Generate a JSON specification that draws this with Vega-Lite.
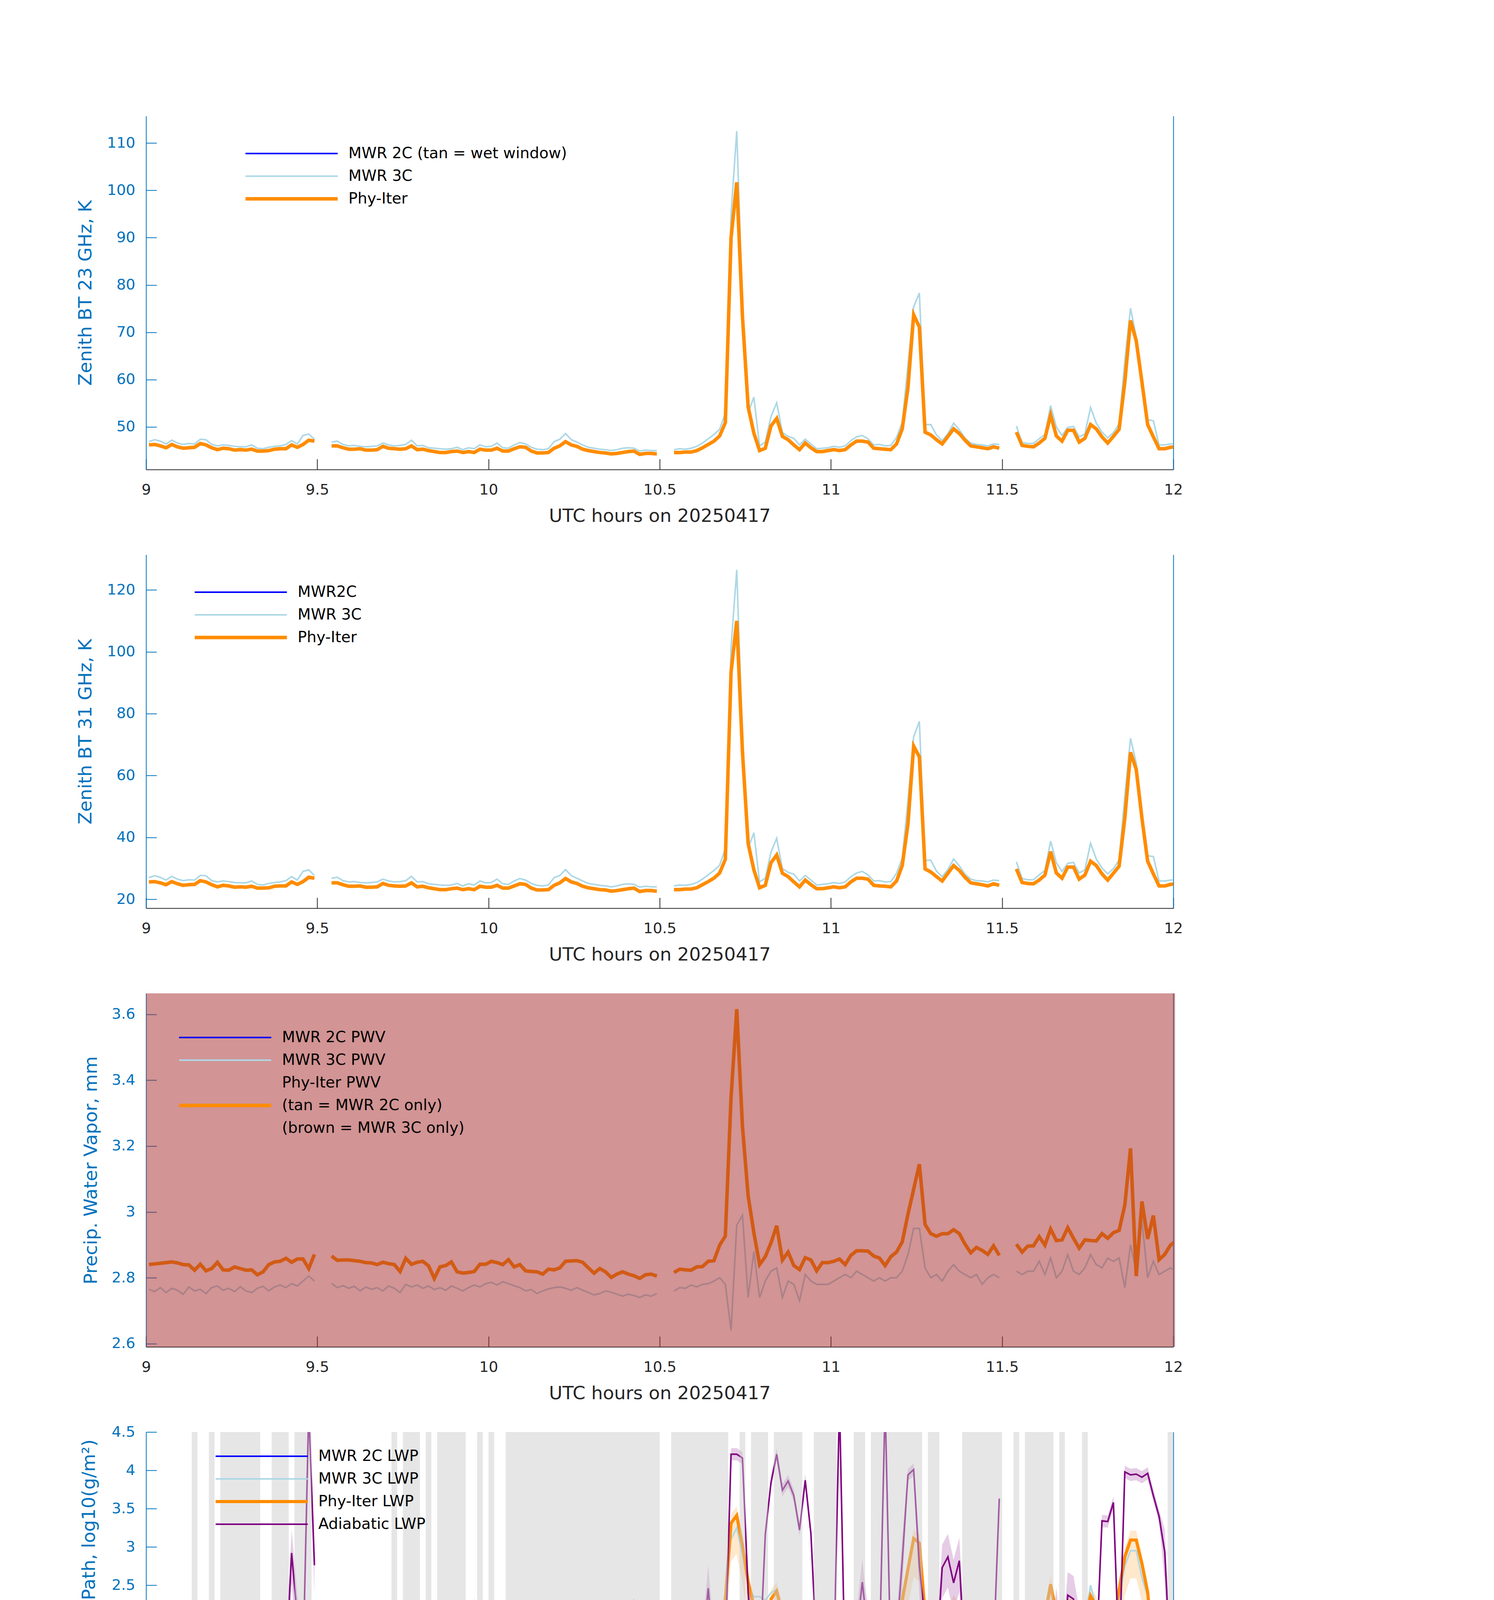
{
  "$schema": "https://vega.github.io/schema/vega-lite/v6.json",
  "padding": {"left": 195, "top": 297, "right": 10, "bottom": 10},
  "spacing": 218,
  "bounds": "flush",
  "resolve": {
    "scale": {"color": "independent", "strokeWidth": "independent"},
    "legend": {"color": "independent", "strokeWidth": "independent"}
  },
  "config": {
    "view": {"stroke": null},
    "axis": {
      "grid": false, "labelFont": "DejaVu Sans", "labelFontSize": 38,
      "titleFont": "DejaVu Sans", "titleFontWeight": "normal", "tickSize": -27, "tickWidth": 2, "domainWidth": 2,
      "labelFlush": false, "labelOverlap": false, "labelBound": false
    },
    "axisX": {
      "labelColor": "#262626", "tickColor": "#262626", "domainColor": "#262626", "labelPadding": 60,
      "titleFontSize": 47, "titleColor": "#262626", "titleY": 119, "titleBaseline": "middle"
    },
    "axisY": {
      "labelColor": "#0072bd", "tickColor": "#0072bd", "domainColor": "#0072bd", "labelPadding": 55,
      "titleFontSize": 47, "titleColor": "#0072bd", "titleBaseline": "middle"
    },
    "legend": {
      "orient": "none", "symbolType": "stroke", "symbolSize": 55696, "clipHeight": 58, "rowPadding": 0,
      "labelOffset": 23, "padding": 0, "labelFont": "DejaVu Sans",
      "labelFontSize": 39, "labelColor": "#000000", "labelLimit": 2000
    }
  },
  "vconcat": [
    {
      "width": 2630, "height": 905,
      "resolve": {"axis": {"y": "independent"}},
      "layer": [
        {
          "data": {"name": "main"},
          "mark": {"type": "line", "clip": true, "invalid": "break-paths-show-domains"},
          "encoding": {
            "x": {"field": "min", "type": "quantitative", "scale": {"domain": [0, 180], "nice": false, "zero": false},
              "axis": {"values": [0, 30, 60, 90, 120, 150, 180], "labelExpr": "format(9 + datum.value / 60, '~g')", "title": "UTC hours on 20250417"}},
            "y": {"field": "m23", "type": "quantitative", "scale": {"domain": [41, 115.7], "nice": false, "zero": false},
              "axis": {"values": [50, 60, 70, 80, 90, 100, 110], "title": "Zenith BT 23 GHz, K", "titleX": -155}},
            "color": {"datum": "MWR 3C", "type": "nominal",
              "scale": {"domain": ["MWR 2C (tan = wet window)", "MWR 3C", "Phy-Iter"], "range": ["#0000ff", "#add8e6", "#ff8c00"]},
              "legend": {"title": null, "legendX": 250, "legendY": 67}},
            "strokeWidth": {"datum": "MWR 3C", "type": "nominal",
              "scale": {"type": "ordinal", "domain": ["MWR 2C (tan = wet window)", "MWR 3C", "Phy-Iter"], "range": [4, 4, 9]},
              "legend": {"title": null, "legendX": 250, "legendY": 67}}
          }
        },
        {
          "data": {"name": "main"},
          "mark": {"type": "line", "clip": true, "invalid": "break-paths-show-domains", "strokeWidth": 9},
          "encoding": {
            "x": {"field": "min", "type": "quantitative"},
            "y": {"field": "p23", "type": "quantitative", "axis": null},
            "color": {"datum": "Phy-Iter", "type": "nominal"}
          }
        },
        {
          "data": {"name": "main"},
          "mark": {"type": "line", "opacity": 0},
          "encoding": {
            "x": {"field": "min", "type": "quantitative"},
            "y": {"field": "p23", "type": "quantitative", "axis": {"orient": "right", "labels": false, "ticks": false, "title": null}}
          }
        }
      ]
    },
    {
      "width": 2630, "height": 905,
      "resolve": {"axis": {"y": "independent"}},
      "layer": [
        {
          "data": {"name": "main"},
          "mark": {"type": "line", "clip": true, "invalid": "break-paths-show-domains"},
          "encoding": {
            "x": {"field": "min", "type": "quantitative", "scale": {"domain": [0, 180], "nice": false, "zero": false},
              "axis": {"values": [0, 30, 60, 90, 120, 150, 180], "labelExpr": "format(9 + datum.value / 60, '~g')", "title": "UTC hours on 20250417"}},
            "y": {"field": "m31", "type": "quantitative", "scale": {"domain": [17.1, 131.4], "nice": false, "zero": false},
              "axis": {"values": [20, 40, 60, 80, 100, 120], "title": "Zenith BT 31 GHz, K", "titleX": -155}},
            "color": {"datum": "MWR 3C", "type": "nominal",
              "scale": {"domain": ["MWR2C", "MWR 3C", "Phy-Iter"], "range": ["#0000ff", "#add8e6", "#ff8c00"]},
              "legend": {"title": null, "legendX": 120, "legendY": 67}},
            "strokeWidth": {"datum": "MWR 3C", "type": "nominal",
              "scale": {"type": "ordinal", "domain": ["MWR2C", "MWR 3C", "Phy-Iter"], "range": [4, 4, 9]},
              "legend": {"title": null, "legendX": 120, "legendY": 67}}
          }
        },
        {
          "data": {"name": "main"},
          "mark": {"type": "line", "clip": true, "invalid": "break-paths-show-domains", "strokeWidth": 9},
          "encoding": {
            "x": {"field": "min", "type": "quantitative"},
            "y": {"field": "p31", "type": "quantitative", "axis": null},
            "color": {"datum": "Phy-Iter", "type": "nominal"}
          }
        },
        {
          "data": {"name": "main"},
          "mark": {"type": "line", "opacity": 0},
          "encoding": {
            "x": {"field": "min", "type": "quantitative"},
            "y": {"field": "p31", "type": "quantitative", "axis": {"orient": "right", "labels": false, "ticks": false, "title": null}}
          }
        }
      ]
    },
    {
      "width": 2630, "height": 905,
      "resolve": {"axis": {"y": "independent"}},
      "layer": [
        {
          "data": {"name": "main"},
          "mark": {"type": "line", "clip": true, "invalid": "break-paths-show-domains"},
          "encoding": {
            "x": {"field": "min", "type": "quantitative", "scale": {"domain": [0, 180], "nice": false, "zero": false},
              "axis": {"values": [0, 30, 60, 90, 120, 150, 180], "labelExpr": "format(9 + datum.value / 60, '~g')", "title": "UTC hours on 20250417"}},
            "y": {"field": "mpwv", "type": "quantitative", "scale": {"domain": [2.59, 3.664], "nice": false, "zero": false},
              "axis": {"values": [2.6, 2.8, 3, 3.2, 3.4, 3.6], "format": "~g", "title": "Precip. Water Vapor, mm", "titleX": -141}},
            "color": {"datum": "MWR 3C PWV", "type": "nominal",
              "scale": {"domain": ["MWR 2C PWV", "MWR 3C PWV", "Phy-Iter PWV", "Phy-Iter PWV: (tan = MWR 2C only)", "(brown = MWR 3C only)"],
                "range": ["#0000ff", "#add8e6", "transparent", "#ff8c00", "transparent"]},
              "legend": {"title": null, "legendX": 80, "legendY": 84, "labelExpr": "replace(datum.label, 'Phy-Iter PWV: ', '')"}},
            "strokeWidth": {"datum": "MWR 3C PWV", "type": "nominal",
              "scale": {"type": "ordinal", "domain": ["MWR 2C PWV", "MWR 3C PWV", "Phy-Iter PWV", "Phy-Iter PWV: (tan = MWR 2C only)", "(brown = MWR 3C only)"],
                "range": [4, 4, 1, 9, 1]},
              "legend": {"title": null, "legendX": 80, "legendY": 84, "labelExpr": "replace(datum.label, 'Phy-Iter PWV: ', '')"}}
          }
        },
        {
          "data": {"name": "main"},
          "mark": {"type": "line", "clip": true, "invalid": "break-paths-show-domains", "strokeWidth": 9},
          "encoding": {
            "x": {"field": "min", "type": "quantitative"},
            "y": {"field": "ppwv", "type": "quantitative", "axis": null},
            "color": {"datum": "Phy-Iter PWV: (tan = MWR 2C only)", "type": "nominal"}
          }
        },
        {
          "data": {"name": "window"},
          "mark": {"type": "rect", "color": "#a52a2a", "opacity": 0.5},
          "encoding": {
            "x": {"field": "start", "type": "quantitative"},
            "x2": {"field": "end"}
          }
        },
        {
          "data": {"name": "main"},
          "mark": {"type": "line", "opacity": 0},
          "encoding": {
            "x": {"field": "min", "type": "quantitative"},
            "y": {"field": "ppwv", "type": "quantitative", "axis": {"orient": "right", "labels": false, "ticks": false, "title": null}}
          }
        }
      ]
    },
    {
      "width": 2630, "height": 905,
      "resolve": {"axis": {"y": "independent"}},
      "layer": [
        {
          "data": {"name": "main"},
          "mark": {"type": "area", "clip": true, "invalid": "break-paths-show-domains", "color": "#ff8c00", "opacity": 0.2},
          "encoding": {
            "x": {"field": "min", "type": "quantitative", "scale": {"domain": [0, 180], "nice": false, "zero": false},
              "axis": {"values": [0, 30, 60, 90, 120, 150, 180], "labelExpr": "format(9 + datum.value / 60, '~g')", "title": "UTC hours on 20250417"}},
            "y": {"field": "plo", "type": "quantitative", "scale": {"domain": [-0.117, 4.5], "nice": false, "zero": false},
              "axis": {"values": [0, 0.5, 1, 1.5, 2, 2.5, 3, 3.5, 4, 4.5], "format": "~g", "title": "log10 Liquid Water Path, log10(g/m²)", "titleX": -146}},
            "y2": {"field": "phi"}
          }
        },
        {
          "data": {"name": "main"},
          "mark": {"type": "area", "clip": true, "invalid": "break-paths-show-domains", "color": "#800080", "opacity": 0.2},
          "encoding": {
            "x": {"field": "min", "type": "quantitative"},
            "y": {"field": "alo", "type": "quantitative", "axis": null},
            "y2": {"field": "ahi"}
          }
        },
        {
          "data": {"name": "main"},
          "mark": {"type": "line", "clip": true, "invalid": "break-paths-show-domains"},
          "encoding": {
            "x": {"field": "min", "type": "quantitative"},
            "y": {"field": "mlwp", "type": "quantitative", "axis": null},
            "color": {"datum": "MWR 3C LWP", "type": "nominal",
              "scale": {"domain": ["MWR 2C LWP", "MWR 3C LWP", "Phy-Iter LWP", "Adiabatic LWP"], "range": ["#0000ff", "#add8e6", "#ff8c00", "#800080"]},
              "legend": {"title": null, "legendX": 174, "legendY": 33}},
            "strokeWidth": {"datum": "MWR 3C LWP", "type": "nominal",
              "scale": {"type": "ordinal", "domain": ["MWR 2C LWP", "MWR 3C LWP", "Phy-Iter LWP", "Adiabatic LWP"], "range": [4, 4, 8, 4]},
              "legend": {"title": null, "legendX": 174, "legendY": 33}}
          }
        },
        {
          "data": {"name": "main"},
          "mark": {"type": "line", "clip": true, "invalid": "break-paths-show-domains", "strokeWidth": 8},
          "encoding": {
            "x": {"field": "min", "type": "quantitative"},
            "y": {"field": "plwp", "type": "quantitative", "axis": null},
            "color": {"datum": "Phy-Iter LWP", "type": "nominal"}
          }
        },
        {
          "data": {"name": "main"},
          "mark": {"type": "line", "clip": true, "invalid": "break-paths-show-domains", "strokeWidth": 4},
          "encoding": {
            "x": {"field": "min", "type": "quantitative"},
            "y": {"field": "alwp", "type": "quantitative", "axis": null},
            "color": {"datum": "Adiabatic LWP", "type": "nominal"}
          }
        },
        {
          "data": {"name": "bands"},
          "mark": {"type": "rect", "color": "#c8c8c8", "opacity": 0.46},
          "encoding": {
            "x": {"field": "start", "type": "quantitative"},
            "x2": {"field": "end"}
          }
        },
        {
          "data": {"name": "main"},
          "mark": {"type": "line", "opacity": 0},
          "encoding": {
            "x": {"field": "min", "type": "quantitative"},
            "y": {"field": "mlwp", "type": "quantitative", "axis": {"orient": "right", "labels": false, "ticks": false, "title": null}}
          }
        }
      ]
    },
    {
      "width": 2630, "height": 905,
      "resolve": {"axis": {"y": "independent"}},
      "layer": [
        {
          "data": {"name": "flags"},
          "mark": {"type": "point", "filled": true, "size": 100, "color": "#ff8c00", "opacity": 1},
          "encoding": {
            "x": {"field": "min", "type": "quantitative", "scale": {"domain": [0, 180], "nice": false, "zero": false},
              "axis": {"values": [0, 30, 60, 90, 120, 150, 180], "labelExpr": "format(9 + datum.value / 60, '~g')", "title": "UTC hours on 20250417"}},
            "y": {"field": "flag", "type": "quantitative", "scale": {"domain": [-0.5, 11.5], "nice": false, "zero": false},
              "axis": {"values": [0, 2, 4, 6, 8, 10], "title": "MWR Phy Iter DQ Flag", "titleX": -134}}
          }
        },
        {
          "data": {"name": "flags"},
          "mark": {"type": "point", "opacity": 0},
          "encoding": {
            "x": {"field": "min", "type": "quantitative"},
            "y": {"field": "flag", "type": "quantitative", "axis": {"orient": "right", "labels": false, "ticks": false, "title": null}}
          }
        }
      ]
    }
  ],
  "datasets": {
    "window": [{"start": 0, "end": 180.3, "source": "MWR 3C only"}],
    "bands": [
      {"start": 8, "end": 9}, {"start": 11, "end": 12}, {"start": 13, "end": 20}, {"start": 22, "end": 25},
      {"start": 26, "end": 29}, {"start": 43, "end": 44}, {"start": 45, "end": 48}, {"start": 49, "end": 50},
      {"start": 51, "end": 56}, {"start": 58, "end": 59}, {"start": 60, "end": 61}, {"start": 63, "end": 90},
      {"start": 92, "end": 102}, {"start": 104, "end": 105}, {"start": 106, "end": 109}, {"start": 110, "end": 115},
      {"start": 117, "end": 121}, {"start": 124, "end": 126}, {"start": 127, "end": 136}, {"start": 137, "end": 139},
      {"start": 143, "end": 150}, {"start": 152, "end": 153}, {"start": 154, "end": 159}, {"start": 160, "end": 161},
      {"start": 164, "end": 165}, {"start": 179, "end": 180}
    ],
    "flags": [
      {"min":0.5,"flag":0},{"min":1.5,"flag":0},{"min":2.5,"flag":0},{"min":3.5,"flag":0},{"min":4.5,"flag":0},
      {"min":5.5,"flag":0},{"min":6.5,"flag":0},{"min":7.5,"flag":0},{"min":8.5,"flag":4},{"min":9.5,"flag":0},
      {"min":10.5,"flag":0},{"min":11.5,"flag":4},{"min":12.5,"flag":0},{"min":13.5,"flag":4},{"min":14.5,"flag":4},
      {"min":15.5,"flag":4},{"min":16.5,"flag":4},{"min":17.5,"flag":4},{"min":18.5,"flag":4},{"min":19.5,"flag":4},
      {"min":20.5,"flag":0},{"min":21.5,"flag":0},{"min":22.5,"flag":4},{"min":23.5,"flag":4},{"min":24.5,"flag":4},
      {"min":25.5,"flag":0},{"min":26.5,"flag":4},{"min":27.5,"flag":4},{"min":28.5,"flag":4},{"min":29.5,"flag":0},
      {"min":30.5,"flag":1},{"min":31.5,"flag":1},{"min":32.5,"flag":0},{"min":33.5,"flag":0},{"min":34.5,"flag":0},
      {"min":35.5,"flag":0},{"min":36.5,"flag":0},{"min":37.5,"flag":0},{"min":38.5,"flag":0},{"min":39.5,"flag":0},
      {"min":40.5,"flag":0},{"min":41.5,"flag":0},{"min":42.5,"flag":0},{"min":43.5,"flag":4},{"min":44.5,"flag":0},
      {"min":45.5,"flag":4},{"min":46.5,"flag":4},{"min":47.5,"flag":4},{"min":48.5,"flag":0},{"min":49.5,"flag":4},
      {"min":50.5,"flag":0},{"min":51.5,"flag":4},{"min":52.5,"flag":4},{"min":53.5,"flag":4},{"min":54.5,"flag":4},
      {"min":55.5,"flag":4},{"min":56.5,"flag":0},{"min":57.5,"flag":0},{"min":58.5,"flag":4},{"min":59.5,"flag":0},
      {"min":60.5,"flag":4},{"min":61.5,"flag":0},{"min":62.5,"flag":0},{"min":63.5,"flag":4},{"min":64.5,"flag":4},
      {"min":65.5,"flag":4},{"min":66.5,"flag":4},{"min":67.5,"flag":4},{"min":68.5,"flag":4},{"min":69.5,"flag":4},
      {"min":70.5,"flag":4},{"min":71.5,"flag":4},{"min":72.5,"flag":4},{"min":73.5,"flag":4},{"min":74.5,"flag":4},
      {"min":75.5,"flag":4},{"min":76.5,"flag":4},{"min":77.5,"flag":4},{"min":78.5,"flag":4},{"min":79.5,"flag":4},
      {"min":80.5,"flag":4},{"min":81.5,"flag":4},{"min":82.5,"flag":4},{"min":83.5,"flag":4},{"min":84.5,"flag":4},
      {"min":85.5,"flag":4},{"min":86.5,"flag":4},{"min":87.5,"flag":4},{"min":88.5,"flag":4},{"min":89.5,"flag":4},
      {"min":90.5,"flag":1},{"min":91.5,"flag":1},{"min":92.5,"flag":4},{"min":93.5,"flag":4},{"min":94.5,"flag":4},
      {"min":95.5,"flag":4},{"min":96.5,"flag":4},{"min":97.5,"flag":4},{"min":98.5,"flag":4},{"min":99.5,"flag":4},
      {"min":100.5,"flag":4},{"min":101.5,"flag":4},{"min":102.5,"flag":6},{"min":103.5,"flag":6},{"min":104.5,"flag":4},
      {"min":104.5,"flag":6},{"min":105.5,"flag":0},{"min":106.5,"flag":4},{"min":107.5,"flag":4},{"min":107.5,"flag":6},
      {"min":108.5,"flag":4},{"min":109.5,"flag":0},{"min":110.5,"flag":4},{"min":111.5,"flag":4},{"min":112.5,"flag":4},
      {"min":113.5,"flag":4},{"min":114.5,"flag":4},{"min":115.5,"flag":0},{"min":116.5,"flag":0},{"min":117.5,"flag":4},
      {"min":117.5,"flag":6},{"min":118.5,"flag":4},{"min":118.5,"flag":6},{"min":119.5,"flag":4},{"min":119.5,"flag":6},
      {"min":120.5,"flag":4},{"min":120.5,"flag":6},{"min":121.5,"flag":4},{"min":122.5,"flag":4},{"min":123.5,"flag":0},
      {"min":124.5,"flag":4},{"min":125.5,"flag":4},{"min":126.5,"flag":0},{"min":127.5,"flag":4},{"min":128.5,"flag":4},
      {"min":129.5,"flag":4},{"min":130.5,"flag":4},{"min":131.5,"flag":4},{"min":132.5,"flag":4},{"min":133.5,"flag":4},
      {"min":134.5,"flag":4},{"min":134.5,"flag":6},{"min":135.5,"flag":4},{"min":135.5,"flag":6},{"min":136.5,"flag":0},
      {"min":137.5,"flag":4},{"min":138.5,"flag":4},{"min":139.5,"flag":0},{"min":140.5,"flag":0},{"min":141.5,"flag":0},
      {"min":142.5,"flag":0},{"min":143.5,"flag":4},{"min":144.5,"flag":4},{"min":145.5,"flag":4},{"min":146.5,"flag":4},
      {"min":147.5,"flag":4},{"min":148.5,"flag":4},{"min":149.5,"flag":4},{"min":150.5,"flag":1},{"min":151.5,"flag":1},
      {"min":152.5,"flag":4},{"min":153.5,"flag":0},{"min":154.5,"flag":4},{"min":155.5,"flag":4},{"min":156.5,"flag":4},
      {"min":157.5,"flag":4},{"min":158.5,"flag":4},{"min":159.5,"flag":0},{"min":160.5,"flag":4},{"min":161.5,"flag":0},
      {"min":162.5,"flag":0},{"min":163.5,"flag":0},{"min":164.5,"flag":4},{"min":165.5,"flag":0},{"min":166.5,"flag":0},
      {"min":167.5,"flag":0},{"min":168.5,"flag":0},{"min":169.5,"flag":0},{"min":170.5,"flag":0},{"min":171.5,"flag":0},
      {"min":172.5,"flag":6},{"min":173.5,"flag":6},{"min":174.5,"flag":0},{"min":175.5,"flag":6},{"min":176.5,"flag":0},
      {"min":177.5,"flag":6},{"min":178.5,"flag":6},{"min":179.5,"flag":4},{"min":179.5,"flag":6},{"min":180.5,"flag":0}
    ],
    "main": [
      {"min":0.5,"p23":46.2,"m23":46.9,"p31":25.6,"m31":27.0,"ppwv":2.840,"mpwv":2.765,"plwp":1.96,"plo":1.46,"phi":2.08,"mlwp":1.85,"alwp":1.59,"alo":1.19,"ahi":1.89},
      {"min":1.5,"p23":46.3,"m23":47.3,"p31":25.7,"m31":27.6,"ppwv":2.842,"mpwv":2.758,"plwp":1.98,"plo":1.48,"phi":2.10,"mlwp":1.82,"alwp":1.49,"alo":1.09,"ahi":1.79},
      {"min":2.5,"p23":46.0,"m23":47.0,"p31":25.3,"m31":27.1,"ppwv":2.844,"mpwv":2.770,"plwp":1.89,"plo":1.39,"phi":2.01,"mlwp":1.80,"alwp":1.50,"alo":1.10,"ahi":1.80},
      {"min":3.5,"p23":45.6,"m23":46.4,"p31":24.7,"m31":26.2,"ppwv":2.846,"mpwv":2.755,"plwp":1.59,"plo":1.09,"phi":1.71,"mlwp":1.72,"alwp":1.83,"alo":1.43,"ahi":2.13},
      {"min":4.5,"p23":46.3,"m23":47.2,"p31":25.7,"m31":27.4,"ppwv":2.848,"mpwv":2.768,"plwp":1.92,"plo":1.42,"phi":2.04,"mlwp":1.85,"alwp":1.59,"alo":1.19,"ahi":1.89},
      {"min":5.5,"p23":45.8,"m23":46.6,"p31":25.0,"m31":26.5,"ppwv":2.845,"mpwv":2.762,"plwp":1.74,"plo":1.24,"phi":1.86,"mlwp":1.80,"alwp":1.64,"alo":1.24,"ahi":1.94},
      {"min":6.5,"p23":45.5,"m23":46.3,"p31":24.5,"m31":26.0,"ppwv":2.840,"mpwv":2.750,"plwp":1.60,"plo":1.10,"phi":1.72,"mlwp":1.75,"alwp":1.64,"alo":1.24,"ahi":1.94},
      {"min":7.5,"p23":45.6,"m23":46.5,"p31":24.7,"m31":26.3,"ppwv":2.839,"mpwv":2.772,"plwp":1.69,"plo":1.19,"phi":1.81,"mlwp":1.70,"alwp":1.66,"alo":1.26,"ahi":1.96},
      {"min":8.5,"p23":45.7,"m23":46.4,"p31":24.8,"m31":26.2,"ppwv":2.823,"mpwv":2.760,"plwp":1.85,"plo":1.35,"phi":1.97,"mlwp":1.82,"alwp":1.23,"alo":0.83,"ahi":1.53},
      {"min":9.5,"p23":46.5,"m23":47.4,"p31":26.0,"m31":27.7,"ppwv":2.841,"mpwv":2.765,"plwp":1.98,"plo":1.48,"phi":2.10,"mlwp":1.90,"alwp":1.64,"alo":1.24,"ahi":1.94},
      {"min":10.5,"p23":46.2,"m23":47.3,"p31":25.6,"m31":27.6,"ppwv":2.821,"mpwv":2.752,"plwp":1.84,"plo":1.34,"phi":1.96,"mlwp":1.78,"alwp":1.38,"alo":0.98,"ahi":1.68},
      {"min":11.5,"p23":45.6,"m23":46.3,"p31":24.7,"m31":26.0,"ppwv":2.828,"mpwv":2.770,"plwp":1.55,"plo":1.05,"phi":1.67,"mlwp":1.62,"alwp":1.23,"alo":0.83,"ahi":1.53},
      {"min":12.5,"p23":45.2,"m23":46.0,"p31":24.0,"m31":25.6,"ppwv":2.847,"mpwv":2.775,"plwp":1.54,"plo":1.04,"phi":1.66,"mlwp":1.70,"alwp":1.73,"alo":1.33,"ahi":2.03},
      {"min":13.5,"p23":45.5,"m23":46.2,"p31":24.5,"m31":25.9,"ppwv":2.824,"mpwv":2.762,"plwp":1.60,"plo":1.10,"phi":1.72,"mlwp":1.66,"alwp":1.23,"alo":0.83,"ahi":1.53},
      {"min":14.5,"p23":45.4,"m23":46.1,"p31":24.3,"m31":25.7,"ppwv":2.823,"mpwv":2.768,"plwp":1.31,"plo":0.81,"phi":1.43,"mlwp":1.60,"alwp":1.42,"alo":1.02,"ahi":1.72},
      {"min":15.5,"p23":45.1,"m23":45.9,"p31":23.9,"m31":25.4,"ppwv":2.833,"mpwv":2.758,"plwp":1.33,"plo":0.83,"phi":1.45,"mlwp":1.70,"alwp":1.57,"alo":1.17,"ahi":1.87},
      {"min":16.5,"p23":45.2,"m23":45.8,"p31":24.0,"m31":25.3,"ppwv":2.828,"mpwv":2.773,"plwp":1.35,"plo":0.85,"phi":1.47,"mlwp":1.65,"alwp":1.23,"alo":0.83,"ahi":1.53},
      {"min":17.5,"p23":45.1,"m23":45.8,"p31":23.9,"m31":25.3,"ppwv":2.823,"mpwv":2.760,"plwp":1.42,"plo":0.92,"phi":1.54,"mlwp":1.60,"alwp":1.42,"alo":1.02,"ahi":1.72},
      {"min":18.5,"p23":45.3,"m23":46.2,"p31":24.2,"m31":25.9,"ppwv":2.824,"mpwv":2.755,"plwp":1.57,"plo":1.07,"phi":1.69,"mlwp":1.72,"alwp":1.59,"alo":1.19,"ahi":1.89},
      {"min":19.5,"p23":44.9,"m23":45.5,"p31":23.6,"m31":24.8,"ppwv":2.809,"mpwv":2.768,"plwp":1.45,"plo":0.95,"phi":1.57,"mlwp":1.75,"alwp":1.33,"alo":0.93,"ahi":1.63},
      {"min":20.5,"p23":44.9,"m23":45.4,"p31":23.6,"m31":24.6,"ppwv":2.818,"mpwv":2.774,"plwp":1.35,"plo":0.85,"phi":1.47,"mlwp":1.62,"alwp":1.76,"alo":1.36,"ahi":2.06},
      {"min":21.5,"p23":45.0,"m23":45.7,"p31":23.7,"m31":25.1,"ppwv":2.840,"mpwv":2.760,"plwp":1.14,"plo":0.64,"phi":1.26,"mlwp":1.55,"alwp":1.71,"alo":1.31,"ahi":2.01},
      {"min":22.5,"p23":45.3,"m23":45.9,"p31":24.2,"m31":25.4,"ppwv":2.848,"mpwv":2.772,"plwp":1.31,"plo":0.81,"phi":1.43,"mlwp":1.66,"alwp":1.45,"alo":1.05,"ahi":1.75},
      {"min":23.5,"p23":45.4,"m23":46.0,"p31":24.3,"m31":25.6,"ppwv":2.850,"mpwv":2.778,"plwp":1.33,"plo":0.83,"phi":1.45,"mlwp":1.60,"alwp":1.44,"alo":1.04,"ahi":1.74},
      {"min":24.5,"p23":45.4,"m23":46.3,"p31":24.3,"m31":26.0,"ppwv":2.859,"mpwv":2.770,"plwp":1.35,"plo":0.85,"phi":1.47,"mlwp":1.62,"alwp":1.44,"alo":1.04,"ahi":1.74},
      {"min":25.5,"p23":46.2,"m23":47.1,"p31":25.6,"m31":27.3,"ppwv":2.847,"mpwv":2.782,"plwp":1.86,"plo":1.36,"phi":1.98,"mlwp":1.88,"alwp":2.92,"alo":2.52,"ahi":3.22},
      {"min":26.5,"p23":45.7,"m23":46.4,"p31":24.8,"m31":26.2,"ppwv":2.857,"mpwv":2.775,"plwp":1.54,"plo":1.04,"phi":1.66,"mlwp":1.72,"alwp":2.08,"alo":1.68,"ahi":2.38},
      {"min":27.5,"p23":46.3,"m23":48.2,"p31":25.7,"m31":29.0,"ppwv":2.857,"mpwv":2.790,"plwp":1.89,"plo":1.39,"phi":2.01,"mlwp":1.95,"alwp":1.45,"alo":1.05,"ahi":1.75},
      {"min":28.5,"p23":47.2,"m23":48.5,"p31":27.1,"m31":29.5,"ppwv":2.828,"mpwv":2.805,"plwp":2.03,"plo":1.53,"phi":2.15,"mlwp":2.18,"alwp":4.8,"alo":4.7,"ahi":5.0},
      {"min":29.5,"p23":47.0,"m23":47.4,"p31":26.8,"m31":27.7,"ppwv":2.871,"mpwv":2.790,"plwp":1.98,"plo":1.48,"phi":2.10,"mlwp":2.02,"alwp":2.76,"alo":2.36,"ahi":3.06},
      {"min":30.5},
      {"min":31.5},
      {"min":32.5,"p23":46.0,"m23":46.8,"p31":25.3,"m31":26.8,"ppwv":2.866,"mpwv":2.783,"plwp":1.66,"plo":1.16,"phi":1.78,"mlwp":1.85,"alwp":1.66,"alo":1.26,"ahi":1.96},
      {"min":33.5,"p23":46.0,"m23":47.0,"p31":25.3,"m31":27.1,"ppwv":2.853,"mpwv":2.770,"plwp":1.71,"plo":1.21,"phi":1.83,"mlwp":1.80,"alwp":1.68,"alo":1.28,"ahi":1.98},
      {"min":34.5,"p23":45.6,"m23":46.3,"p31":24.7,"m31":26.0,"ppwv":2.854,"mpwv":2.776,"plwp":1.49,"plo":0.99,"phi":1.61,"mlwp":1.75,"alwp":1.71,"alo":1.31,"ahi":2.01},
      {"min":35.5,"p23":45.3,"m23":46.0,"p31":24.2,"m31":25.6,"ppwv":2.854,"mpwv":2.768,"plwp":1.33,"plo":0.83,"phi":1.45,"mlwp":1.66,"alwp":1.59,"alo":1.19,"ahi":1.89},
      {"min":36.5,"p23":45.3,"m23":46.1,"p31":24.2,"m31":25.7,"ppwv":2.852,"mpwv":2.774,"plwp":1.16,"plo":0.66,"phi":1.28,"mlwp":1.62,"alwp":1.66,"alo":1.26,"ahi":1.96},
      {"min":37.5,"p23":45.4,"m23":45.9,"p31":24.3,"m31":25.4,"ppwv":2.850,"mpwv":2.760,"plwp":1.35,"plo":0.85,"phi":1.47,"mlwp":1.60,"alwp":1.73,"alo":1.33,"ahi":2.03},
      {"min":38.5,"p23":45.1,"m23":45.8,"p31":23.9,"m31":25.3,"ppwv":2.846,"mpwv":2.772,"plwp":0.99,"plo":0.49,"phi":1.11,"mlwp":1.56,"alwp":1.71,"alo":1.31,"ahi":2.01},
      {"min":39.5,"p23":45.1,"m23":45.9,"p31":23.9,"m31":25.4,"ppwv":2.845,"mpwv":2.765,"plwp":1.11,"plo":0.61,"phi":1.23,"mlwp":1.62,"alwp":1.59,"alo":1.19,"ahi":1.89},
      {"min":40.5,"p23":45.2,"m23":46.0,"p31":24.0,"m31":25.6,"ppwv":2.840,"mpwv":2.770,"plwp":1.18,"plo":0.68,"phi":1.30,"mlwp":1.70,"alwp":1.68,"alo":1.28,"ahi":1.98},
      {"min":41.5,"p23":45.9,"m23":46.6,"p31":25.1,"m31":26.5,"ppwv":2.847,"mpwv":2.760,"plwp":1.57,"plo":1.07,"phi":1.69,"mlwp":1.82,"alwp":1.58,"alo":1.18,"ahi":1.88},
      {"min":42.5,"p23":45.5,"m23":46.2,"p31":24.5,"m31":25.9,"ppwv":2.843,"mpwv":2.775,"plwp":1.45,"plo":0.95,"phi":1.57,"mlwp":1.66,"alwp":1.77,"alo":1.37,"ahi":2.07},
      {"min":43.5,"p23":45.4,"m23":46.0,"p31":24.3,"m31":25.6,"ppwv":2.840,"mpwv":2.768,"plwp":1.33,"plo":0.83,"phi":1.45,"mlwp":1.55,"alwp":1.43,"alo":1.03,"ahi":1.73},
      {"min":44.5,"p23":45.3,"m23":46.1,"p31":24.2,"m31":25.7,"ppwv":2.819,"mpwv":2.755,"plwp":1.55,"plo":1.05,"phi":1.67,"mlwp":1.62,"alwp":1.80,"alo":1.40,"ahi":2.10},
      {"min":45.5,"p23":45.4,"m23":46.3,"p31":24.3,"m31":26.0,"ppwv":2.859,"mpwv":2.780,"plwp":1.74,"plo":1.24,"phi":1.86,"mlwp":1.78,"alwp":1.45,"alo":1.05,"ahi":1.75},
      {"min":46.5,"p23":46.0,"m23":47.2,"p31":25.3,"m31":27.4,"ppwv":2.841,"mpwv":2.772,"plwp":1.33,"plo":0.83,"phi":1.45,"mlwp":1.60,"alwp":1.23,"alo":0.83,"ahi":1.53},
      {"min":47.5,"p23":45.2,"m23":46.0,"p31":24.0,"m31":25.6,"ppwv":2.847,"mpwv":2.778,"plwp":0.90,"plo":0.40,"phi":1.02,"mlwp":1.52,"alwp":1.23,"alo":0.83,"ahi":1.53},
      {"min":48.5,"p23":45.3,"m23":46.1,"p31":24.2,"m31":25.7,"ppwv":2.850,"mpwv":2.768,"plwp":0.50,"plo":0.00,"phi":0.62,"mlwp":1.55,"alwp":1.59,"alo":1.19,"ahi":1.89},
      {"min":49.5,"p23":45.0,"m23":45.6,"p31":23.7,"m31":25.0,"ppwv":2.836,"mpwv":2.775,"plwp":-0.6,"plo":-0.6,"phi":0.8,"mlwp":1.46,"alwp":1.31,"alo":0.91,"ahi":1.61},
      {"min":50.5,"p23":44.8,"m23":45.5,"p31":23.4,"m31":24.8,"ppwv":2.798,"mpwv":2.764,"plwp":-0.6,"plo":-0.6,"phi":0.8,"mlwp":1.50,"alwp":1.71,"alo":1.31,"ahi":2.01},
      {"min":51.5,"p23":44.6,"m23":45.4,"p31":23.1,"m31":24.6,"ppwv":2.833,"mpwv":2.770,"plwp":-0.6,"plo":-0.6,"phi":0.8,"mlwp":1.55,"alwp":1.23,"alo":0.83,"ahi":1.53},
      {"min":52.5,"p23":44.6,"m23":45.3,"p31":23.1,"m31":24.5,"ppwv":2.837,"mpwv":2.762,"plwp":-0.6,"plo":-0.6,"phi":0.8,"mlwp":1.60,"alwp":1.42,"alo":1.02,"ahi":1.72},
      {"min":53.5,"p23":44.8,"m23":45.4,"p31":23.4,"m31":24.6,"ppwv":2.848,"mpwv":2.775,"plwp":0.84,"plo":0.34,"phi":0.96,"mlwp":1.70,"alwp":1.42,"alo":1.02,"ahi":1.72},
      {"min":54.5,"p23":44.9,"m23":45.7,"p31":23.6,"m31":25.1,"ppwv":2.818,"mpwv":2.768,"plwp":-0.6,"plo":-0.6,"phi":0.8,"mlwp":1.60,"alwp":1.42,"alo":1.02,"ahi":1.72},
      {"min":55.5,"p23":44.6,"m23":45.2,"p31":23.1,"m31":24.3,"ppwv":2.814,"mpwv":2.760,"plwp":1.04,"plo":0.54,"phi":1.16,"mlwp":1.56,"alwp":1.42,"alo":1.02,"ahi":1.72},
      {"min":56.5,"p23":44.8,"m23":45.6,"p31":23.4,"m31":25.0,"ppwv":2.816,"mpwv":2.770,"plwp":-0.6,"plo":-0.6,"phi":0.8,"mlwp":1.66,"alwp":1.55,"alo":1.15,"ahi":1.85},
      {"min":57.5,"p23":44.6,"m23":45.4,"p31":23.1,"m31":24.6,"ppwv":2.819,"mpwv":2.778,"plwp":1.72,"plo":1.22,"phi":1.84,"mlwp":1.92,"alwp":2.03,"alo":1.63,"ahi":2.33},
      {"min":58.5,"p23":45.3,"m23":46.2,"p31":24.2,"m31":25.9,"ppwv":2.841,"mpwv":2.772,"plwp":1.04,"plo":0.54,"phi":1.16,"mlwp":1.62,"alwp":1.38,"alo":0.98,"ahi":1.68},
      {"min":59.5,"p23":45.1,"m23":45.8,"p31":23.9,"m31":25.3,"ppwv":2.841,"mpwv":2.782,"plwp":1.67,"plo":1.17,"phi":1.79,"mlwp":1.72,"alwp":1.35,"alo":0.95,"ahi":1.65},
      {"min":60.5,"p23":45.1,"m23":45.9,"p31":23.9,"m31":25.4,"ppwv":2.850,"mpwv":2.786,"plwp":-0.6,"plo":-0.6,"phi":0.8,"mlwp":1.50,"alwp":1.23,"alo":0.8,"ahi":1.8},
      {"min":61.5,"p23":45.5,"m23":46.6,"p31":24.5,"m31":26.5,"ppwv":2.846,"mpwv":2.778,"plwp":-0.6,"plo":-0.6,"phi":0.8,"mlwp":1.55,"alwp":1.59,"alo":1.19,"ahi":1.89},
      {"min":62.5,"p23":44.9,"m23":45.6,"p31":23.6,"m31":25.0,"ppwv":2.840,"mpwv":2.788,"plwp":-0.6,"plo":-0.6,"phi":0.8,"mlwp":1.50,"alwp":1.71,"alo":1.31,"ahi":2.01},
      {"min":63.5,"p23":44.9,"m23":45.5,"p31":23.6,"m31":24.8,"ppwv":2.855,"mpwv":2.782,"plwp":1.2,"plo":0.7,"phi":1.32,"mlwp":1.62,"alwp":1.41,"alo":1.01,"ahi":1.71},
      {"min":64.5,"p23":45.4,"m23":46.2,"p31":24.3,"m31":25.9,"ppwv":2.833,"mpwv":2.776,"plwp":1.69,"plo":1.19,"phi":1.81,"mlwp":1.76,"alwp":1.41,"alo":1.01,"ahi":1.71},
      {"min":65.5,"p23":45.8,"m23":46.7,"p31":25.0,"m31":26.7,"ppwv":2.840,"mpwv":2.770,"plwp":1.74,"plo":1.24,"phi":1.86,"mlwp":1.82,"alwp":1.23,"alo":0.8,"ahi":1.8},
      {"min":66.5,"p23":45.7,"m23":46.4,"p31":24.8,"m31":26.2,"ppwv":2.821,"mpwv":2.760,"plwp":1.2,"plo":0.7,"phi":1.32,"mlwp":1.70,"alwp":1.23,"alo":0.8,"ahi":1.8},
      {"min":67.5,"p23":44.9,"m23":45.7,"p31":23.6,"m31":25.1,"ppwv":2.819,"mpwv":2.764,"plwp":0.68,"plo":0.18,"phi":0.8,"mlwp":1.60,"alwp":1.40,"alo":1.0,"ahi":1.7},
      {"min":68.5,"p23":44.5,"m23":45.3,"p31":23.0,"m31":24.5,"ppwv":2.818,"mpwv":2.752,"plwp":0.75,"plo":0.25,"phi":0.87,"mlwp":1.65,"alwp":1.40,"alo":1.0,"ahi":1.7},
      {"min":69.5,"p23":44.5,"m23":45.2,"p31":23.0,"m31":24.3,"ppwv":2.811,"mpwv":2.760,"plwp":1.3,"plo":0.8,"phi":1.42,"mlwp":1.72,"alwp":1.23,"alo":0.8,"ahi":1.8},
      {"min":70.5,"p23":44.6,"m23":45.4,"p31":23.1,"m31":24.6,"ppwv":2.826,"mpwv":2.766,"plwp":1.7,"plo":1.2,"phi":1.82,"mlwp":1.86,"alwp":1.23,"alo":0.8,"ahi":1.8},
      {"min":71.5,"p23":45.5,"m23":46.9,"p31":24.5,"m31":27.0,"ppwv":2.824,"mpwv":2.770,"plwp":1.91,"plo":1.41,"phi":2.03,"mlwp":1.95,"alwp":1.23,"alo":0.8,"ahi":1.8},
      {"min":72.5,"p23":46.0,"m23":47.4,"p31":25.3,"m31":27.7,"ppwv":2.830,"mpwv":2.772,"plwp":1.83,"plo":1.33,"phi":1.95,"mlwp":2.05,"alwp":1.23,"alo":0.8,"ahi":1.8},
      {"min":73.5,"p23":46.9,"m23":48.6,"p31":26.7,"m31":29.6,"ppwv":2.850,"mpwv":2.768,"plwp":2.10,"plo":1.60,"phi":2.22,"mlwp":2.18,"alwp":1.23,"alo":0.8,"ahi":1.8},
      {"min":74.5,"p23":46.2,"m23":47.3,"p31":25.6,"m31":27.6,"ppwv":2.851,"mpwv":2.762,"plwp":1.91,"plo":1.41,"phi":2.03,"mlwp":1.98,"alwp":1.23,"alo":0.8,"ahi":1.8},
      {"min":75.5,"p23":45.9,"m23":46.8,"p31":25.1,"m31":26.8,"ppwv":2.852,"mpwv":2.770,"plwp":1.83,"plo":1.33,"phi":1.95,"mlwp":1.86,"alwp":1.23,"alo":0.8,"ahi":1.8},
      {"min":76.5,"p23":45.3,"m23":46.2,"p31":24.2,"m31":25.9,"ppwv":2.847,"mpwv":2.762,"plwp":1.55,"plo":1.05,"phi":1.67,"mlwp":1.76,"alwp":1.23,"alo":0.8,"ahi":1.8},
      {"min":77.5,"p23":45.0,"m23":45.7,"p31":23.7,"m31":25.1,"ppwv":2.830,"mpwv":2.755,"plwp":1.4,"plo":0.9,"phi":1.52,"mlwp":1.70,"alwp":1.23,"alo":0.8,"ahi":1.8},
      {"min":78.5,"p23":44.8,"m23":45.5,"p31":23.4,"m31":24.8,"ppwv":2.814,"mpwv":2.748,"plwp":1.28,"plo":0.78,"phi":1.40,"mlwp":1.62,"alwp":1.23,"alo":0.8,"ahi":1.8},
      {"min":79.5,"p23":44.6,"m23":45.3,"p31":23.1,"m31":24.5,"ppwv":2.828,"mpwv":2.752,"plwp":0.61,"plo":0.11,"phi":0.73,"mlwp":1.55,"alwp":1.23,"alo":0.8,"ahi":1.8},
      {"min":80.5,"p23":44.5,"m23":45.2,"p31":23.0,"m31":24.3,"ppwv":2.818,"mpwv":2.760,"plwp":0.61,"plo":0.11,"phi":0.73,"mlwp":1.60,"alwp":1.23,"alo":0.8,"ahi":1.8},
      {"min":81.5,"p23":44.3,"m23":45.0,"p31":22.6,"m31":24.0,"ppwv":2.801,"mpwv":2.756,"plwp":-0.6,"plo":-0.6,"phi":0.8,"mlwp":1.50,"alwp":1.23,"alo":0.8,"ahi":1.8},
      {"min":82.5,"p23":44.4,"m23":45.2,"p31":22.8,"m31":24.3,"ppwv":2.811,"mpwv":2.750,"plwp":0.65,"plo":0.15,"phi":0.77,"mlwp":1.55,"alwp":1.42,"alo":0.85,"ahi":1.8},
      {"min":83.5,"p23":44.6,"m23":45.5,"p31":23.1,"m31":24.8,"ppwv":2.818,"mpwv":2.744,"plwp":1.1,"plo":0.6,"phi":1.22,"mlwp":1.60,"alwp":1.42,"alo":0.85,"ahi":1.8},
      {"min":84.5,"p23":44.8,"m23":45.6,"p31":23.4,"m31":25.0,"ppwv":2.811,"mpwv":2.750,"plwp":1.45,"plo":0.95,"phi":1.57,"mlwp":1.66,"alwp":1.89,"alo":1.49,"ahi":2.19},
      {"min":85.5,"p23":44.9,"m23":45.5,"p31":23.6,"m31":24.8,"ppwv":2.806,"mpwv":2.746,"plwp":1.52,"plo":1.02,"phi":1.64,"mlwp":1.52,"alwp":2.03,"alo":1.63,"ahi":2.33},
      {"min":86.5,"p23":44.2,"m23":44.9,"p31":22.5,"m31":23.9,"ppwv":2.798,"mpwv":2.740,"plwp":0.72,"plo":0.22,"phi":0.84,"mlwp":1.55,"alwp":1.42,"alo":0.85,"ahi":1.8},
      {"min":87.5,"p23":44.4,"m23":45.1,"p31":22.8,"m31":24.2,"ppwv":2.809,"mpwv":2.748,"plwp":0.97,"plo":0.47,"phi":1.09,"mlwp":1.50,"alwp":1.42,"alo":0.85,"ahi":1.8},
      {"min":88.5,"p23":44.4,"m23":45.0,"p31":22.8,"m31":24.0,"ppwv":2.811,"mpwv":2.744,"plwp":0.09,"plo":-0.41,"phi":0.21,"mlwp":1.48,"alwp":1.42,"alo":0.85,"ahi":1.8},
      {"min":89.5,"p23":44.3,"m23":45.0,"p31":22.6,"m31":24.0,"ppwv":2.805,"mpwv":2.752,"plwp":0.41,"plo":-0.09,"phi":0.53,"mlwp":1.52,"alwp":1.42,"alo":0.85,"ahi":1.8},
      {"min":90.5},
      {"min":91.5},
      {"min":92.5,"p23":44.6,"m23":45.2,"p31":23.1,"m31":24.3,"ppwv":2.816,"mpwv":2.760,"plwp":0.74,"plo":0.24,"phi":0.86,"mlwp":1.50,"alwp":1.43,"alo":0.85,"ahi":1.8},
      {"min":93.5,"p23":44.6,"m23":45.4,"p31":23.1,"m31":24.6,"ppwv":2.826,"mpwv":2.770,"plwp":0.82,"plo":0.32,"phi":0.94,"mlwp":1.52,"alwp":1.43,"alo":0.85,"ahi":1.8},
      {"min":94.5,"p23":44.7,"m23":45.3,"p31":23.3,"m31":24.5,"ppwv":2.824,"mpwv":2.768,"plwp":0.61,"plo":0.11,"phi":0.73,"mlwp":1.48,"alwp":1.23,"alo":0.8,"ahi":1.6},
      {"min":95.5,"p23":44.7,"m23":45.5,"p31":23.3,"m31":24.8,"ppwv":2.823,"mpwv":2.778,"plwp":0.91,"plo":0.41,"phi":1.03,"mlwp":1.55,"alwp":1.43,"alo":1.0,"ahi":1.8},
      {"min":96.5,"p23":45.0,"m23":45.9,"p31":23.7,"m31":25.4,"ppwv":2.833,"mpwv":2.772,"plwp":1.49,"plo":0.99,"phi":1.61,"mlwp":1.62,"alwp":1.77,"alo":1.37,"ahi":2.07},
      {"min":97.5,"p23":45.6,"m23":46.6,"p31":24.7,"m31":26.5,"ppwv":2.834,"mpwv":2.780,"plwp":1.62,"plo":1.12,"phi":1.74,"mlwp":1.75,"alwp":1.62,"alo":1.22,"ahi":1.92},
      {"min":98.5,"p23":46.3,"m23":47.5,"p31":25.7,"m31":27.9,"ppwv":2.850,"mpwv":2.782,"plwp":1.93,"plo":1.43,"phi":2.05,"mlwp":1.90,"alwp":2.46,"alo":2.06,"ahi":2.76},
      {"min":99.5,"p23":47.0,"m23":48.4,"p31":26.8,"m31":29.3,"ppwv":2.852,"mpwv":2.790,"plwp":2.03,"plo":1.53,"phi":2.15,"mlwp":2.00,"alwp":1.59,"alo":1.19,"ahi":1.89},
      {"min":100.5,"p23":48.1,"m23":49.5,"p31":28.5,"m31":31.0,"ppwv":2.899,"mpwv":2.800,"plwp":2.05,"plo":1.55,"phi":2.17,"mlwp":2.10,"alwp":1.98,"alo":1.58,"ahi":2.28},
      {"min":101.5,"p23":50.9,"m23":53.0,"p31":32.9,"m31":36.4,"ppwv":2.927,"mpwv":2.780,"plwp":2.30,"plo":1.80,"phi":2.42,"mlwp":2.30,"alwp":1.64,"alo":1.24,"ahi":1.94},
      {"min":102.5,"p23":89.9,"m23":95.0,"p31":93.3,"m31":101.5,"ppwv":3.347,"mpwv":2.640,"plwp":3.31,"plo":2.81,"phi":3.43,"mlwp":3.10,"alwp":4.21,"alo":4.13,"ahi":4.29},
      {"min":103.5,"p23":101.7,"m23":112.5,"p31":110.0,"m31":126.5,"ppwv":3.616,"mpwv":2.960,"plwp":3.41,"plo":2.91,"phi":3.53,"mlwp":3.25,"alwp":4.21,"alo":4.13,"ahi":4.29},
      {"min":104.5,"p23":73.4,"m23":76.0,"p31":67.7,"m31":72.1,"ppwv":3.260,"mpwv":2.990,"plwp":3.02,"plo":2.52,"phi":3.14,"mlwp":2.90,"alwp":4.16,"alo":4.08,"ahi":4.24},
      {"min":105.5,"p23":54.2,"m23":53.0,"p31":38.0,"m31":36.4,"ppwv":3.048,"mpwv":2.740,"plwp":2.54,"plo":2.04,"phi":2.66,"mlwp":2.50,"alwp":2.41,"alo":2.01,"ahi":2.71},
      {"min":106.5,"p23":48.7,"m23":56.3,"p31":29.5,"m31":41.5,"ppwv":2.937,"mpwv":2.880,"plwp":2.23,"plo":1.73,"phi":2.35,"mlwp":2.35,"alwp":1.45,"alo":1.05,"ahi":1.75},
      {"min":107.5,"p23":45.0,"m23":46.0,"p31":23.7,"m31":25.6,"ppwv":2.840,"mpwv":2.740,"plwp":-0.6,"plo":-0.6,"phi":0.8,"mlwp":2.35,"alwp":1.45,"alo":1.05,"ahi":1.75},
      {"min":108.5,"p23":45.5,"m23":46.8,"p31":24.5,"m31":26.8,"ppwv":2.864,"mpwv":2.790,"plwp":-0.6,"plo":-0.6,"phi":0.8,"mlwp":2.30,"alwp":3.16,"alo":3.08,"ahi":3.24},
      {"min":109.5,"p23":50.2,"m23":52.2,"p31":31.8,"m31":35.2,"ppwv":2.906,"mpwv":2.820,"plwp":2.32,"plo":1.82,"phi":2.44,"mlwp":2.40,"alwp":3.84,"alo":3.76,"ahi":3.92},
      {"min":110.5,"p23":51.8,"m23":55.1,"p31":34.3,"m31":39.7,"ppwv":2.958,"mpwv":2.830,"plwp":2.42,"plo":1.92,"phi":2.54,"mlwp":2.45,"alwp":4.21,"alo":4.13,"ahi":4.29},
      {"min":111.5,"p23":48.0,"m23":48.8,"p31":28.4,"m31":29.9,"ppwv":2.854,"mpwv":2.740,"plwp":2.13,"plo":1.63,"phi":2.25,"mlwp":2.10,"alwp":3.74,"alo":3.66,"ahi":3.82},
      {"min":112.5,"p23":47.3,"m23":48.0,"p31":27.3,"m31":28.7,"ppwv":2.878,"mpwv":2.790,"plwp":1.96,"plo":1.46,"phi":2.08,"mlwp":1.90,"alwp":3.86,"alo":3.78,"ahi":3.94},
      {"min":113.5,"p23":46.2,"m23":47.6,"p31":25.6,"m31":28.1,"ppwv":2.837,"mpwv":2.780,"plwp":1.88,"plo":1.38,"phi":2.00,"mlwp":1.85,"alwp":3.67,"alo":3.59,"ahi":3.75},
      {"min":114.5,"p23":45.2,"m23":46.2,"p31":24.0,"m31":25.9,"ppwv":2.825,"mpwv":2.730,"plwp":1.42,"plo":0.92,"phi":1.54,"mlwp":1.65,"alwp":3.22,"alo":3.14,"ahi":3.30},
      {"min":115.5,"p23":46.6,"m23":47.4,"p31":26.2,"m31":27.7,"ppwv":2.861,"mpwv":2.810,"plwp":1.78,"plo":1.28,"phi":1.90,"mlwp":1.70,"alwp":3.87,"alo":3.79,"ahi":3.95},
      {"min":116.5,"p23":45.6,"m23":46.4,"p31":24.7,"m31":26.2,"ppwv":2.854,"mpwv":2.790,"plwp":1.42,"plo":0.92,"phi":1.54,"mlwp":1.75,"alwp":3.17,"alo":3.09,"ahi":3.25},
      {"min":117.5,"p23":44.8,"m23":45.4,"p31":23.4,"m31":24.6,"ppwv":2.821,"mpwv":2.780,"plwp":-0.6,"plo":-0.6,"phi":0.8,"mlwp":1.60,"alwp":1.62,"alo":1.22,"ahi":1.92},
      {"min":118.5,"p23":44.8,"m23":45.5,"p31":23.4,"m31":24.8,"ppwv":2.846,"mpwv":2.780,"plwp":-0.6,"plo":-0.6,"phi":0.8,"mlwp":1.50,"alwp":1.43,"alo":1.03,"ahi":1.73},
      {"min":119.5,"p23":45.0,"m23":45.6,"p31":23.7,"m31":25.0,"ppwv":2.846,"mpwv":2.780,"plwp":-0.6,"plo":-0.6,"phi":0.8,"mlwp":1.45,"alwp":1.41,"alo":1.01,"ahi":1.71},
      {"min":120.5,"p23":45.2,"m23":45.9,"p31":24.0,"m31":25.4,"ppwv":2.850,"mpwv":2.790,"plwp":-0.6,"plo":-0.6,"phi":0.8,"mlwp":1.45,"alwp":1.43,"alo":1.03,"ahi":1.73},
      {"min":121.5,"p23":45.0,"m23":45.7,"p31":23.7,"m31":25.1,"ppwv":2.857,"mpwv":2.800,"plwp":-0.6,"plo":-0.6,"phi":0.8,"mlwp":1.50,"alwp":4.9,"alo":4.7,"ahi":5.0},
      {"min":122.5,"p23":45.2,"m23":46.0,"p31":24.0,"m31":25.6,"ppwv":2.840,"mpwv":2.810,"plwp":0.89,"plo":0.39,"phi":1.01,"mlwp":1.60,"alwp":1.26,"alo":0.86,"ahi":1.56},
      {"min":123.5,"p23":46.2,"m23":47.1,"p31":25.6,"m31":27.3,"ppwv":2.868,"mpwv":2.800,"plwp":1.59,"plo":1.09,"phi":1.71,"mlwp":1.85,"alwp":1.31,"alo":0.91,"ahi":1.61},
      {"min":124.5,"p23":47.0,"m23":47.9,"p31":26.8,"m31":28.5,"ppwv":2.882,"mpwv":2.820,"plwp":1.84,"plo":1.34,"phi":1.96,"mlwp":1.80,"alwp":1.86,"alo":1.46,"ahi":2.16},
      {"min":125.5,"p23":47.0,"m23":48.2,"p31":26.8,"m31":29.0,"ppwv":2.882,"mpwv":2.810,"plwp":1.83,"plo":1.33,"phi":1.95,"mlwp":1.85,"alwp":2.54,"alo":2.14,"ahi":2.84},
      {"min":126.5,"p23":46.8,"m23":47.5,"p31":26.5,"m31":27.9,"ppwv":2.881,"mpwv":2.800,"plwp":1.76,"plo":1.26,"phi":1.88,"mlwp":1.80,"alwp":1.86,"alo":1.46,"ahi":2.16},
      {"min":127.5,"p23":45.5,"m23":46.2,"p31":24.5,"m31":25.9,"ppwv":2.866,"mpwv":2.790,"plwp":1.08,"plo":0.58,"phi":1.20,"mlwp":1.65,"alwp":1.62,"alo":1.22,"ahi":1.92},
      {"min":128.5,"p23":45.4,"m23":46.3,"p31":24.3,"m31":26.0,"ppwv":2.860,"mpwv":2.800,"plwp":1.31,"plo":0.81,"phi":1.43,"mlwp":1.60,"alwp":1.57,"alo":1.17,"ahi":1.87},
      {"min":129.5,"p23":45.3,"m23":46.0,"p31":24.2,"m31":25.6,"ppwv":2.837,"mpwv":2.790,"plwp":1.47,"plo":0.97,"phi":1.59,"mlwp":1.55,"alwp":4.9,"alo":4.7,"ahi":5.0},
      {"min":130.5,"p23":45.2,"m23":46.1,"p31":24.0,"m31":25.7,"ppwv":2.864,"mpwv":2.800,"plwp":0.85,"plo":0.35,"phi":0.97,"mlwp":1.55,"alwp":1.43,"alo":1.03,"ahi":1.73},
      {"min":131.5,"p23":46.4,"m23":47.8,"p31":25.9,"m31":28.4,"ppwv":2.878,"mpwv":2.800,"plwp":1.79,"plo":1.29,"phi":1.91,"mlwp":1.80,"alwp":1.81,"alo":1.41,"ahi":2.11},
      {"min":132.5,"p23":49.6,"m23":51.0,"p31":30.9,"m31":33.3,"ppwv":2.909,"mpwv":2.820,"plwp":2.30,"plo":1.80,"phi":2.42,"mlwp":2.30,"alwp":2.82,"alo":2.42,"ahi":3.12},
      {"min":133.5,"p23":58.3,"m23":63.0,"p31":44.3,"m31":51.9,"ppwv":2.993,"mpwv":2.870,"plwp":2.71,"plo":2.21,"phi":2.83,"mlwp":2.70,"alwp":3.94,"alo":3.86,"ahi":4.02},
      {"min":134.5,"p23":73.7,"m23":75.4,"p31":69.5,"m31":72.5,"ppwv":3.069,"mpwv":2.950,"plwp":3.11,"plo":2.61,"phi":3.23,"mlwp":3.10,"alwp":4.01,"alo":3.93,"ahi":4.09},
      {"min":135.5,"p23":71.1,"m23":78.3,"p31":66.0,"m31":77.5,"ppwv":3.145,"mpwv":2.950,"plwp":3.05,"plo":2.55,"phi":3.17,"mlwp":3.05,"alwp":2.75,"alo":2.35,"ahi":3.05},
      {"min":136.5,"p23":48.9,"m23":50.5,"p31":29.8,"m31":32.6,"ppwv":2.962,"mpwv":2.830,"plwp":2.13,"plo":1.63,"phi":2.25,"mlwp":2.10,"alwp":2.03,"alo":1.63,"ahi":2.33},
      {"min":137.5,"p23":48.3,"m23":50.5,"p31":28.8,"m31":32.6,"ppwv":2.934,"mpwv":2.800,"plwp":1.96,"plo":1.46,"phi":2.08,"mlwp":2.00,"alwp":1.55,"alo":1.15,"ahi":1.85},
      {"min":138.5,"p23":47.3,"m23":48.3,"p31":27.3,"m31":29.1,"ppwv":2.926,"mpwv":2.810,"plwp":1.69,"plo":1.19,"phi":1.81,"mlwp":1.75,"alwp":1.57,"alo":1.17,"ahi":1.87},
      {"min":139.5,"p23":46.4,"m23":47.1,"p31":25.9,"m31":27.3,"ppwv":2.934,"mpwv":2.790,"plwp":1.43,"plo":0.93,"phi":1.55,"mlwp":1.85,"alwp":2.73,"alo":2.33,"ahi":3.03},
      {"min":140.5,"p23":48.0,"m23":48.6,"p31":28.4,"m31":29.6,"ppwv":2.934,"mpwv":2.820,"plwp":2.03,"plo":1.53,"phi":2.15,"mlwp":2.25,"alwp":2.87,"alo":2.47,"ahi":3.17},
      {"min":141.5,"p23":49.6,"m23":50.8,"p31":30.9,"m31":33.0,"ppwv":2.946,"mpwv":2.840,"plwp":2.25,"plo":1.75,"phi":2.37,"mlwp":2.10,"alwp":2.53,"alo":2.13,"ahi":2.83},
      {"min":142.5,"p23":48.6,"m23":49.4,"p31":29.3,"m31":30.8,"ppwv":2.934,"mpwv":2.820,"plwp":2.13,"plo":1.63,"phi":2.25,"mlwp":2.00,"alwp":2.82,"alo":2.42,"ahi":3.12},
      {"min":143.5,"p23":47.2,"m23":47.6,"p31":27.1,"m31":28.1,"ppwv":2.902,"mpwv":2.810,"plwp":1.79,"plo":1.29,"phi":1.91,"mlwp":1.80,"alwp":1.45,"alo":1.05,"ahi":1.75},
      {"min":144.5,"p23":46.0,"m23":46.6,"p31":25.3,"m31":26.5,"ppwv":2.876,"mpwv":2.800,"plwp":1.50,"plo":1.00,"phi":1.62,"mlwp":1.60,"alwp":1.45,"alo":1.05,"ahi":1.75},
      {"min":145.5,"p23":45.8,"m23":46.3,"p31":25.0,"m31":26.0,"ppwv":2.892,"mpwv":2.810,"plwp":1.54,"plo":1.04,"phi":1.66,"mlwp":1.65,"alwp":1.45,"alo":1.05,"ahi":1.75},
      {"min":146.5,"p23":45.6,"m23":46.2,"p31":24.7,"m31":25.9,"ppwv":2.883,"mpwv":2.780,"plwp":1.42,"plo":0.92,"phi":1.54,"mlwp":1.60,"alwp":1.45,"alo":1.05,"ahi":1.75},
      {"min":147.5,"p23":45.4,"m23":46.0,"p31":24.3,"m31":25.6,"ppwv":2.871,"mpwv":2.800,"plwp":0.91,"plo":0.41,"phi":1.03,"mlwp":1.55,"alwp":1.45,"alo":1.05,"ahi":1.75},
      {"min":148.5,"p23":45.8,"m23":46.4,"p31":25.0,"m31":26.2,"ppwv":2.897,"mpwv":2.810,"plwp":1.02,"plo":0.52,"phi":1.14,"mlwp":1.60,"alwp":1.64,"alo":1.24,"ahi":1.94},
      {"min":149.5,"p23":45.5,"m23":46.3,"p31":24.5,"m31":26.0,"ppwv":2.868,"mpwv":2.800,"plwp":-0.6,"plo":-0.6,"phi":0.8,"mlwp":1.50,"alwp":3.63,"alo":3.55,"ahi":3.71},
      {"min":150.5},
      {"min":151.5},
      {"min":152.5,"p23":48.9,"m23":50.2,"p31":29.8,"m31":32.1,"ppwv":2.902,"mpwv":2.820,"plwp":2.17,"plo":1.67,"phi":2.29,"mlwp":2.20,"alwp":1.42,"alo":1.02,"ahi":1.72},
      {"min":153.5,"p23":46.1,"m23":46.7,"p31":25.4,"m31":26.7,"ppwv":2.878,"mpwv":2.810,"plwp":1.52,"plo":1.02,"phi":1.64,"mlwp":1.65,"alwp":1.67,"alo":1.27,"ahi":1.97},
      {"min":154.5,"p23":45.9,"m23":46.5,"p31":25.1,"m31":26.3,"ppwv":2.896,"mpwv":2.820,"plwp":1.31,"plo":0.81,"phi":1.43,"mlwp":1.70,"alwp":1.45,"alo":1.05,"ahi":1.75},
      {"min":155.5,"p23":45.8,"m23":46.5,"p31":25.0,"m31":26.3,"ppwv":2.897,"mpwv":2.820,"plwp":1.16,"plo":0.66,"phi":1.28,"mlwp":1.60,"alwp":1.45,"alo":1.05,"ahi":1.75},
      {"min":156.5,"p23":46.6,"m23":47.5,"p31":26.2,"m31":27.9,"ppwv":2.925,"mpwv":2.850,"plwp":1.55,"plo":1.05,"phi":1.67,"mlwp":1.65,"alwp":1.57,"alo":1.17,"ahi":1.87},
      {"min":157.5,"p23":47.6,"m23":48.4,"p31":27.8,"m31":29.3,"ppwv":2.899,"mpwv":2.810,"plwp":2.10,"plo":1.60,"phi":2.22,"mlwp":2.00,"alwp":1.45,"alo":1.05,"ahi":1.75},
      {"min":158.5,"p23":52.5,"m23":54.5,"p31":35.4,"m31":38.8,"ppwv":2.948,"mpwv":2.860,"plwp":2.51,"plo":2.01,"phi":2.63,"mlwp":2.45,"alwp":1.45,"alo":1.05,"ahi":1.75},
      {"min":159.5,"p23":48.1,"m23":50.0,"p31":28.5,"m31":31.8,"ppwv":2.913,"mpwv":2.800,"plwp":2.13,"plo":1.63,"phi":2.25,"mlwp":2.10,"alwp":2.17,"alo":1.77,"ahi":2.47},
      {"min":160.5,"p23":47.0,"m23":48.2,"p31":26.8,"m31":29.0,"ppwv":2.915,"mpwv":2.820,"plwp":1.84,"plo":1.34,"phi":1.96,"mlwp":1.85,"alwp":1.45,"alo":1.05,"ahi":1.75},
      {"min":161.5,"p23":49.3,"m23":49.9,"p31":30.4,"m31":31.6,"ppwv":2.952,"mpwv":2.870,"plwp":2.20,"plo":1.70,"phi":2.32,"mlwp":2.20,"alwp":2.37,"alo":1.97,"ahi":2.67},
      {"min":162.5,"p23":49.3,"m23":50.1,"p31":30.4,"m31":31.9,"ppwv":2.920,"mpwv":2.820,"plwp":2.22,"plo":1.72,"phi":2.34,"mlwp":2.20,"alwp":2.32,"alo":1.92,"ahi":2.62},
      {"min":163.5,"p23":46.8,"m23":47.9,"p31":26.5,"m31":28.5,"ppwv":2.890,"mpwv":2.810,"plwp":1.86,"plo":1.36,"phi":1.98,"mlwp":1.90,"alwp":1.89,"alo":1.49,"ahi":2.19},
      {"min":164.5,"p23":47.6,"m23":48.5,"p31":27.8,"m31":29.5,"ppwv":2.915,"mpwv":2.830,"plwp":2.03,"plo":1.53,"phi":2.15,"mlwp":2.05,"alwp":1.72,"alo":1.32,"ahi":2.02},
      {"min":165.5,"p23":50.5,"m23":54.1,"p31":32.3,"m31":38.1,"ppwv":2.913,"mpwv":2.870,"plwp":2.36,"plo":1.86,"phi":2.48,"mlwp":2.50,"alwp":1.93,"alo":1.53,"ahi":2.23},
      {"min":166.5,"p23":49.6,"m23":50.8,"p31":30.9,"m31":33.0,"ppwv":2.912,"mpwv":2.840,"plwp":2.23,"plo":1.73,"phi":2.35,"mlwp":2.20,"alwp":1.57,"alo":1.17,"ahi":1.87},
      {"min":167.5,"p23":47.9,"m23":48.9,"p31":28.2,"m31":30.1,"ppwv":2.934,"mpwv":2.830,"plwp":1.89,"plo":1.39,"phi":2.01,"mlwp":1.95,"alwp":3.34,"alo":3.26,"ahi":3.42},
      {"min":168.5,"p23":46.6,"m23":47.7,"p31":26.2,"m31":28.2,"ppwv":2.920,"mpwv":2.860,"plwp":1.54,"plo":1.04,"phi":1.66,"mlwp":1.70,"alwp":3.33,"alo":3.25,"ahi":3.41},
      {"min":169.5,"p23":48.0,"m23":48.8,"p31":28.4,"m31":29.9,"ppwv":2.937,"mpwv":2.850,"plwp":1.96,"plo":1.46,"phi":2.08,"mlwp":1.90,"alwp":3.58,"alo":3.50,"ahi":3.66},
      {"min":170.5,"p23":49.5,"m23":50.6,"p31":30.7,"m31":32.7,"ppwv":2.944,"mpwv":2.860,"plwp":2.44,"plo":1.94,"phi":2.56,"mlwp":2.30,"alwp":1.50,"alo":1.10,"ahi":1.80},
      {"min":171.5,"p23":59.5,"m23":64.0,"p31":46.2,"m31":53.5,"ppwv":3.021,"mpwv":2.770,"plwp":2.87,"plo":2.37,"phi":2.99,"mlwp":2.75,"alwp":3.98,"alo":3.90,"ahi":4.06},
      {"min":172.5,"p23":72.5,"m23":75.1,"p31":67.5,"m31":72.0,"ppwv":3.193,"mpwv":2.900,"plwp":3.09,"plo":2.59,"phi":3.21,"mlwp":2.95,"alwp":3.94,"alo":3.86,"ahi":4.02},
      {"min":173.5,"p23":68.2,"m23":69.0,"p31":62.0,"m31":64.0,"ppwv":2.805,"mpwv":2.820,"plwp":3.09,"plo":2.59,"phi":3.21,"mlwp":2.95,"alwp":3.95,"alo":3.87,"ahi":4.03},
      {"min":174.5,"p23":59.5,"m23":58.0,"p31":46.2,"m31":44.2,"ppwv":3.032,"mpwv":2.975,"plwp":2.78,"plo":2.28,"phi":2.90,"mlwp":2.60,"alwp":3.91,"alo":3.83,"ahi":3.99},
      {"min":175.5,"p23":50.5,"m23":51.5,"p31":32.3,"m31":34.1,"ppwv":2.918,"mpwv":2.800,"plwp":2.41,"plo":1.91,"phi":2.53,"mlwp":2.35,"alwp":3.96,"alo":3.88,"ahi":4.04},
      {"min":176.5,"p23":47.9,"m23":51.3,"p31":28.2,"m31":33.8,"ppwv":2.989,"mpwv":2.850,"plwp":1.62,"plo":1.12,"phi":1.74,"mlwp":1.80,"alwp":3.67,"alo":3.59,"ahi":3.75},
      {"min":177.5,"p23":45.4,"m23":46.2,"p31":24.3,"m31":25.9,"ppwv":2.855,"mpwv":2.810,"plwp":-0.6,"plo":-0.6,"phi":0.8,"mlwp":1.55,"alwp":3.40,"alo":3.32,"ahi":3.48},
      {"min":178.5,"p23":45.4,"m23":46.2,"p31":24.3,"m31":25.9,"ppwv":2.871,"mpwv":2.820,"plwp":-0.6,"plo":-0.6,"phi":0.8,"mlwp":1.45,"alwp":2.93,"alo":2.53,"ahi":3.23},
      {"min":179.5,"p23":45.7,"m23":46.4,"p31":24.8,"m31":26.2,"ppwv":2.899,"mpwv":2.830,"plwp":-0.6,"plo":-0.6,"phi":0.8,"mlwp":1.55,"alwp":1.43,"alo":1.03,"ahi":1.73},
      {"min":180.5,"p23":45.8,"m23":46.5,"p31":25.0,"m31":26.3,"ppwv":2.913,"mpwv":2.820,"plwp":-0.6,"plo":-0.6,"phi":0.8,"mlwp":1.60,"alwp":2.78,"alo":2.38,"ahi":3.08}
    ]
  }
}
